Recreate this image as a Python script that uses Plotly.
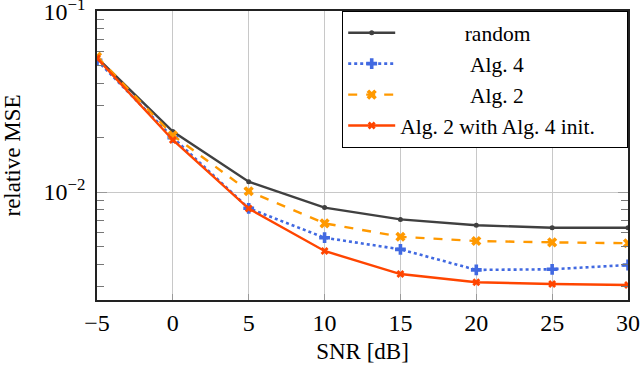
import plotly.graph_objects as go

snr = [-5, 0, 5, 10, 15, 20, 25, 30]
random_mse = [0.0553, 0.0216, 0.0114, 0.0082, 0.00706, 0.00655, 0.00635, 0.00635]
alg4_mse = [0.0535, 0.0200, 0.00813, 0.00559, 0.00482, 0.00371, 0.00374, 0.00395]
alg2_mse = [0.0560, 0.0206, 0.0101, 0.00671, 0.00566, 0.00536, 0.00527, 0.00521]
alg2_init_mse = [0.0550, 0.0194, 0.0081, 0.00472, 0.00352, 0.00317, 0.00310, 0.00306]
x_ticks = [-5, 0, 5, 10, 15, 20, 25, 30]
x_tick_labels = ["\u22125", "0", "5", "10", "15", "20", "25", "30"]
y_ticks = [0.01, 0.1]
y_tick_labels = ["10<sup>\u22122</sup>", "10<sup>\u22121</sup>"]
legend_names = ["random", "Alg. 4", "Alg. 2", "Alg. 2 with Alg. 4 init."]

NB = "\u00a0"
# leading non-breaking spaces to centre the shorter names like the reference legend
pads = [12, 13, 13, 0]

fig = go.Figure()
series = [
    (random_mse, "#404040", "solid", "circle", 5, 2.4),
    (alg4_mse, "#4169E1", "dot", "cross", 9, 2.6),
    (alg2_mse, "#FF9900", "dash", "x", 9, 2.4),
    (alg2_init_mse, "#FF4500", "solid", "x", 7, 2.4),
]
for i, (vals, color, dash, sym, size, lw) in enumerate(series):
    fig.add_trace(go.Scatter(
        x=snr, y=vals, name=NB * pads[i] + legend_names[i] + NB * 5,
        mode="lines+markers",
        line=dict(color=color, width=lw, dash=dash),
        marker=dict(symbol=sym, size=size, color=color),
    ))

font = "Liberation Serif, Times New Roman, serif"
fig.update_layout(
    width=640, height=368,
    margin=dict(l=97, r=12, t=11, b=68),
    paper_bgcolor="white", plot_bgcolor="white",
    font=dict(family=font, size=22, color="black"),
    legend=dict(
        x=1, y=1, xanchor="right", yanchor="top",
        bgcolor="white", bordercolor="black", borderwidth=1.2,
        font=dict(family=font, size=21.5),
        itemwidth=47, tracegroupgap=0,
    ),
    xaxis=dict(
        range=[-5, 30], tickvals=x_ticks, ticktext=x_tick_labels,
        showgrid=True, gridcolor="#c8c8c8", gridwidth=1,
        showline=True, linecolor="#222", linewidth=1.8, mirror=True,
        ticks="inside", ticklen=6, tickcolor="#999",
        tickfont=dict(family=font, size=24), ticklabeloverflow="allow",
        title=dict(text="SNR [dB]", font=dict(family=font, size=23), standoff=8),
        zeroline=False, automargin=False,
    ),
    yaxis=dict(
        type="log", range=[-2.597, -0.999],
        tickvals=y_ticks, ticktext=y_tick_labels,
        showgrid=True, gridcolor="#c8c8c8", gridwidth=1,
        showline=True, linecolor="#222", linewidth=1.8, mirror="ticks",
        ticks="inside", ticklen=10, tickcolor="#999",
        minor=dict(dtick="D1", ticks="inside",
                   ticklen=7, tickwidth=1.2, tickcolor="#777", showgrid=False),
        tickfont=dict(family=font, size=24), ticklabeloverflow="allow",
        ticklabelstandoff=5,
        title=dict(text="relative MSE", font=dict(family=font, size=23), standoff=18),
        zeroline=False, automargin=False,
    ),
)
fig.write_html("out.html", config={"displayModeBar": False},
               post_script="document.body.style.margin='0';")
